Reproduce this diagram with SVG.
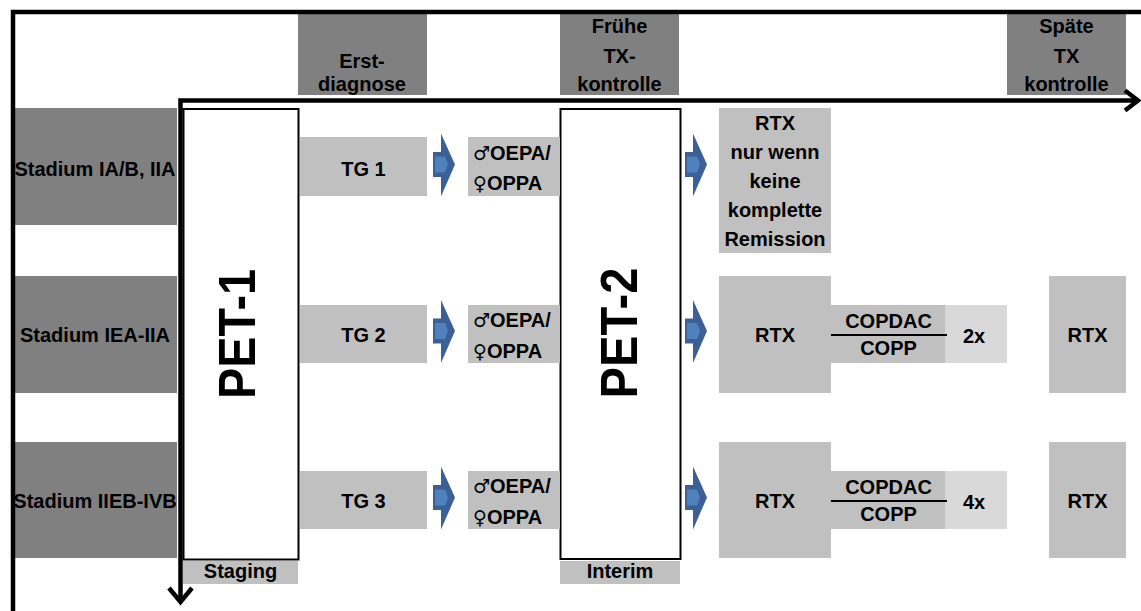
<svg xmlns="http://www.w3.org/2000/svg" width="1141" height="611" viewBox="0 0 1141 611">
<style>
text{font-family:"Liberation Sans",Arial,sans-serif;font-weight:bold;font-size:20px;fill:#000}
.c{text-anchor:middle}
.sym{font-family:"DejaVu Sans",sans-serif;font-size:19px;font-weight:bold}
.dk{fill:#808080}
.lt{fill:#c0c0c0}
.xl{fill:#d9d9d9}
.pet{fill:#fff;stroke:#000;stroke-width:2}
.big{font-size:52px}
.ax{fill:none;stroke:#000;stroke-width:4.5;stroke-linejoin:miter}
</style>
<defs>
<g id="barrow">
<path d="M0,-12.5 H8 V-31 L22,0 L8,32 V12.5 H0 Z" fill="#3c6096"/>
<path d="M2,-8 H12 L15,0 L12,8 H2 Z" fill="#4f81bd"/>
</g>
</defs>
<rect width="1141" height="611" fill="#fff"/>

<g id="header-erst"><rect class="dk" x="298" y="14" width="129" height="81"/><text class="c" x="362" y="68">Erst-</text><text class="c" x="362" y="91">diagnose</text></g>
<g id="header-frueh"><rect class="dk" x="560" y="14" width="119" height="81"/><text class="c" x="619.5" y="33">Frühe</text><text class="c" x="619.5" y="63">TX-</text><text class="c" x="619.5" y="91">kontrolle</text></g>
<g id="header-spaet"><rect class="dk" x="1007" y="14" width="119" height="81"/><text class="c" x="1066.5" y="33">Späte</text><text class="c" x="1066.5" y="63">TX</text><text class="c" x="1066.5" y="91">kontrolle</text></g>

<g id="stadium1"><rect class="dk" x="14" y="108" width="163" height="117"/><text class="c" x="95" y="176">Stadium IA/B, IIA</text></g>
<g id="stadium2"><rect class="dk" x="14" y="276" width="163" height="117"/><text class="c" x="95" y="342">Stadium IEA-IIA</text></g>
<g id="stadium3"><rect class="dk" x="14" y="442" width="163" height="116"/><text class="c" x="95" y="508">Stadium IIEB-IVB</text></g>

<g id="pet1"><rect class="pet" x="183.5" y="109" width="115" height="450.5"/><text class="c big" transform="translate(255,334) rotate(-90)" textLength="130" lengthAdjust="spacingAndGlyphs">PET-1</text></g>
<g id="staging"><rect class="lt" x="183" y="561" width="115" height="23"/><text class="c" x="240.5" y="578">Staging</text></g>

<g id="pet2"><rect class="pet" x="560.5" y="109" width="120" height="450"/><text class="c big" transform="translate(637,333) rotate(-90)" textLength="131" lengthAdjust="spacingAndGlyphs">PET-2</text></g>
<g id="interim"><rect class="lt" x="560" y="561" width="120" height="23"/><text class="c" x="620" y="578">Interim</text></g>

<g id="tg1"><rect class="lt" x="300" y="137" width="127" height="59"/><text class="c" x="363.5" y="176">TG 1</text></g>
<g id="tg2"><rect class="lt" x="300" y="305" width="127" height="58"/><text class="c" x="363.5" y="342">TG 2</text></g>
<g id="tg3"><rect class="lt" x="300" y="471" width="127" height="58"/><text class="c" x="363.5" y="508">TG 3</text></g>

<g id="chemo1"><rect class="lt" x="468" y="137" width="92" height="59"/><text x="473" y="160"><tspan class="sym">♂</tspan>OEPA/</text><text x="473" y="190"><tspan class="sym">♀</tspan>OPPA</text></g>
<g id="chemo2"><rect class="lt" x="468" y="305" width="92" height="58"/><text x="473" y="327"><tspan class="sym">♂</tspan>OEPA/</text><text x="473" y="358"><tspan class="sym">♀</tspan>OPPA</text></g>
<g id="chemo3"><rect class="lt" x="468" y="471" width="92" height="58"/><text x="473" y="493"><tspan class="sym">♂</tspan>OEPA/</text><text x="473" y="524"><tspan class="sym">♀</tspan>OPPA</text></g>

<g id="rtx1"><rect class="lt" x="719" y="108" width="112" height="145"/>
<text class="c" x="775" y="130">RTX</text><text class="c" x="775" y="159">nur wenn</text><text class="c" x="775" y="188">keine</text><text class="c" x="775" y="217">komplette</text><text class="c" x="775" y="246">Remission</text></g>
<g id="rtx2"><rect class="lt" x="719" y="276" width="112" height="117"/><text class="c" x="775" y="342">RTX</text></g>
<g id="rtx3"><rect class="lt" x="719" y="442" width="112" height="116"/><text class="c" x="775" y="508">RTX</text></g>

<g id="copdac2"><rect class="lt" x="831" y="305" width="114" height="58"/><rect class="xl" x="945" y="305" width="62" height="58"/>
<line x1="831" y1="335" x2="947" y2="335" stroke="#000" stroke-width="2"/>
<text class="c" x="888.5" y="328">COPDAC</text><text class="c" x="888.5" y="355">COPP</text><text class="c" x="974" y="343">2x</text></g>
<g id="copdac3"><rect class="lt" x="831" y="471" width="114" height="58"/><rect class="xl" x="945" y="471" width="62" height="58"/>
<line x1="831" y1="501" x2="947" y2="501" stroke="#000" stroke-width="2"/>
<text class="c" x="888.5" y="494">COPDAC</text><text class="c" x="888.5" y="521">COPP</text><text class="c" x="974" y="509">4x</text></g>

<g id="latertx2"><rect class="lt" x="1049" y="276" width="77" height="117"/><text class="c" x="1087.5" y="342">RTX</text></g>
<g id="latertx3"><rect class="lt" x="1049" y="442" width="77" height="116"/><text class="c" x="1087.5" y="508">RTX</text></g>

<g id="connectors">
<use href="#barrow" x="433" y="164.5"/>
<use href="#barrow" x="433" y="331"/>
<use href="#barrow" x="433" y="497.5"/>
<use href="#barrow" x="685" y="164.5"/>
<use href="#barrow" x="685" y="331"/>
<use href="#barrow" x="685" y="497.5"/>
<path class="ax" d="M13,611 V12 H1141"/>
<path class="ax" d="M180.5,600 V100.5 H1136"/>
<path class="ax" d="M1125,90.5 L1138,100.5 L1125,110.5"/>
<path class="ax" d="M169,588 L180.5,602 L192,588"/>
</g>
</svg>
